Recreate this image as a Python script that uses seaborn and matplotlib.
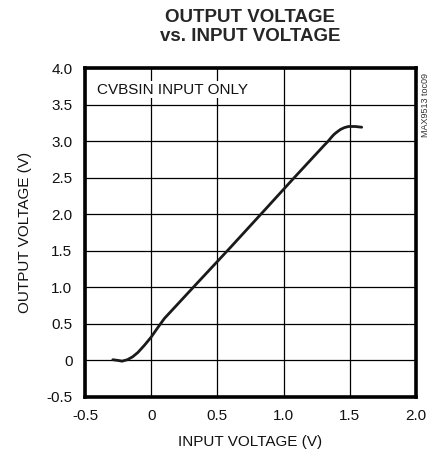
import matplotlib
matplotlib.use("Agg")
import matplotlib.pyplot as plt
import seaborn as sns

# curve
input_v = [-0.29, -0.25, -0.22, -0.18, -0.14, -0.10, -0.05, 0.0, 0.05, 0.1, 0.315,
           0.593, 0.846, 1.07, 1.30, 1.337, 1.36, 1.38, 1.40, 1.43, 1.46, 1.49, 1.54, 1.59]
output_v = [0.01, 0.0, -0.01, 0.01, 0.05, 0.11, 0.21, 0.32, 0.45, 0.575, 0.995,
            1.535, 2.035, 2.48, 2.93, 3.0, 3.05, 3.09, 3.12, 3.16, 3.185, 3.20, 3.20, 3.19]
x_ticks = [-0.5, 0, 0.5, 1.0, 1.5, 2.0]
x_labels = ["-0.5", "0", "0.5", "1.0", "1.5", "2.0"]
y_ticks = [-0.5, 0, 0.5, 1.0, 1.5, 2.0, 2.5, 3.0, 3.5, 4.0]
y_labels = ["-0.5", "0", "0.5", "1.0", "1.5", "2.0", "2.5", "3.0", "3.5", "4.0"]

sns.set_style("white")
plt.rcParams["font.family"] = ["Liberation Sans", "DejaVu Sans"]

fig = plt.figure(figsize=(4.46, 4.59), dpi=100)
ax = fig.add_axes([85 / 446, 1 - 397 / 459, 331 / 446, 329 / 459])

sns.lineplot(x=input_v, y=output_v, ax=ax, color="#1a1a1a", linewidth=2.0, sort=False)

ax.set_xlim(-0.5, 2.0)
ax.set_ylim(-0.5, 4.0)
ax.set_xticks(x_ticks)
ax.set_xticklabels(x_labels)
ax.set_yticks(y_ticks)
ax.set_yticklabels(y_labels)
ax.tick_params(length=0, labelsize=11, pad=9, colors="#111111")
ax.grid(True, color="black", linewidth=0.9)
ax.set_axisbelow(True)
for s in ax.spines.values():
    s.set_linewidth(2.6)
    s.set_color("black")

ax.set_xlabel("INPUT VOLTAGE (V)", fontsize=11, color="#111111", labelpad=8)
ax.set_ylabel("OUTPUT VOLTAGE (V)", fontsize=11, color="#111111", labelpad=10)

ax.text(0.035, 0.955, "CVBSIN INPUT ONLY", transform=ax.transAxes, fontsize=11,
        color="#111111", va="top", ha="left",
        bbox=dict(facecolor="white", edgecolor="none", pad=1))

fig.text(250 / 446, 1 - 27 / 459, "OUTPUT VOLTAGE\nvs. INPUT VOLTAGE", ha="center",
         va="center", fontsize=13.5, fontweight="bold", linespacing=1.1)
fig.text(425 / 446, 1 - 105 / 459, "MAX9513 toc09", rotation=90, ha="center",
         va="center", fontsize=6.5, color="#333333")

fig.savefig("out.png", dpi=100)
